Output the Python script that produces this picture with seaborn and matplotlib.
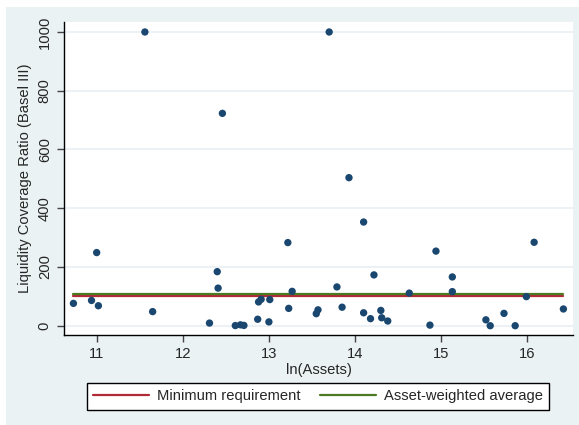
import numpy as np
import pandas as pd
import matplotlib
matplotlib.use("Agg")
import matplotlib.pyplot as plt
from matplotlib.patches import Rectangle
import seaborn as sns

# values
ln_assets = [10.73, 10.94, 11.00, 11.02, 11.56, 11.65, 12.31, 12.40, 12.41, 12.46,
             12.61, 12.67, 12.71, 12.87, 12.88, 12.91, 13.00, 13.01, 13.22, 13.23,
             13.27, 13.55, 13.57, 13.70, 13.79, 13.85, 13.93, 14.10, 14.10, 14.18,
             14.22, 14.30, 14.31, 14.38, 14.63, 14.87, 14.94, 15.13, 15.13, 15.52,
             15.57, 15.73, 15.86, 15.99, 16.08, 16.42]
lcr = [76, 86, 249, 68, 1000, 48, 9, 184, 128, 723,
       0.5, 3, 1, 22, 81, 90, 13, 89, 283, 59,
       117, 41, 54, 1000, 132, 63, 504, 353, 44, 24,
       173, 52, 27, 16, 111, 2, 254, 166, 116, 20,
       0, 42, 0, 99, 284, 57]
min_requirement = 100
weighted_avg = 109

dataset = pd.DataFrame({"ln(Assets)": ln_assets, "LCR": lcr})

sns.set_style("white")
plt.rcParams["font.family"] = ["Liberation Sans", "DejaVu Sans"]
fs = 10.6

bg = "#EAF2F3"
fig = plt.figure(figsize=(5.79, 4.25), dpi=100, facecolor=bg)
ax = fig.add_axes([64.3/579, 1-334.7/425, (572.7-64.3)/579, (334.7-22)/425])
ax.set_facecolor("white")

x0, x1 = dataset["ln(Assets)"].min(), dataset["ln(Assets)"].max()
ax.plot([x0, x1], [min_requirement]*2, color="#B22A35", lw=1.6, label="Minimum requirement", zorder=3)
ax.plot([x0, x1], [weighted_avg]*2, color="#4A7B23", lw=1.6, label="Asset-weighted average", zorder=3)
sns.scatterplot(x="ln(Assets)", y="LCR", data=dataset, ax=ax, color="#1A476F",
                s=28, edgecolor="none", zorder=4, legend=False)

ax.set_xlim(10.624, 16.528)
ax.set_ylim(-30.6, 1034)
ax.set_xticks([11, 12, 13, 14, 15, 16])
ax.set_yticks([0, 200, 400, 600, 800, 1000])
ax.yaxis.grid(True, color="#E6EEF1", lw=1.1)
ax.set_axisbelow(True)
for lab in ax.get_yticklabels():
    lab.set_rotation(90)
    lab.set_va("center")
ax.tick_params(axis="both", direction="out", length=5, width=1, color="#444444",
               labelsize=fs, pad=4, left=True, bottom=True)
sns.despine(ax=ax)
for sp in ["left", "bottom"]:
    ax.spines[sp].set_color("black")
    ax.spines[sp].set_linewidth(1)
ax.set_xlabel("ln(Assets)", fontsize=fs, labelpad=1)
ax.set_ylabel("Liquidity Coverage Ratio (Basel III)", fontsize=fs, labelpad=4)

leg = fig.legend(loc="center", bbox_to_anchor=(318/579, 1-396.4/425), ncol=2,
                 frameon=True, fancybox=False, edgecolor="black", facecolor="white",
                 fontsize=fs, handlelength=3.8, handletextpad=0.55, columnspacing=1.3,
                 borderpad=0.45, borderaxespad=0, framealpha=1)
leg.get_frame().set_linewidth(1)

fig.patches.append(Rectangle((0, 1-7/425), 1, 7/425, transform=fig.transFigure,
                             facecolor="white", edgecolor="none", zorder=0))
fig.patches.append(Rectangle((0, 0), 6/579, 1, transform=fig.transFigure,
                             facecolor="white", edgecolor="none", zorder=0))

fig.savefig("out.png", dpi=100, facecolor=bg)
